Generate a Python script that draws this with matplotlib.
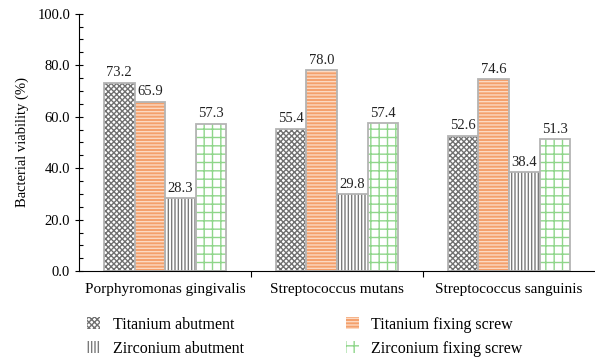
import numpy as np
import matplotlib.pyplot as plt
from matplotlib.ticker import MultipleLocator, FixedLocator

plt.rcParams['font.family'] = ['Liberation Serif', 'DejaVu Serif']
plt.rcParams['hatch.linewidth'] = 1.0

categories = ['Porphyromonas gingivalis', 'Streptococcus mutans', 'Streptococcus sanguinis']
series = ['Titanium abutment', 'Titanium fixing screw', 'Zirconium abutment', 'Zirconium fixing screw']
values = {
    'Titanium abutment': [73.2, 55.4, 52.6],
    'Titanium fixing screw': [65.9, 78.0, 74.6],
    'Zirconium abutment': [28.3, 29.8, 38.4],
    'Zirconium fixing screw': [57.3, 57.4, 51.3],
}

# face colour, hatch colour, hatch pattern
styles = {
    'Titanium abutment': ('white', '#707070', 'xxxxxx'),
    'Titanium fixing screw': ('#f4a06c', '#fcd9c2', '-----'),
    'Zirconium abutment': ('white', '#7a7a7a', '|||||'),
    'Zirconium fixing screw': ('white', '#8fd68a', '++'),
}
edge = '#b4b4b4'

fig = plt.figure(figsize=(5.95, 3.62), dpi=100)
ax = fig.add_axes([0.133, 0.251, 0.867, 0.711])

x = np.arange(len(categories))
w = 0.178
offsets = (np.arange(len(series)) - 1.5) * w

handles = {}
for i, s in enumerate(series):
    fc, hc, hatch = styles[s]
    ax.bar(x + offsets[i], values[s], w, color=fc, edgecolor=hc, hatch=hatch, linewidth=0)
    ax.bar(x + offsets[i], values[s], w, color='none', edgecolor=edge, linewidth=1.3)
    for xi, v in zip(x + offsets[i], values[s]):
        ax.text(xi, v + 1.3, f'{v:.1f}', ha='center', va='bottom', fontsize=10.5, color='#222222')
    handles[s] = plt.Rectangle((0, 0), 1, 1, facecolor=fc, edgecolor=hc, hatch=hatch, linewidth=0)

ax.set_xlim(-0.5, 2.5)
ax.set_ylim(0, 100)
ax.yaxis.set_major_locator(MultipleLocator(20))
ax.yaxis.set_minor_locator(MultipleLocator(5))
ax.yaxis.set_major_formatter(plt.FuncFormatter(lambda t, p: f'{t:.1f}'))
ax.tick_params(axis='y', which='major', direction='inout', length=6, width=0.8, labelsize=10.5)
ax.tick_params(axis='y', which='minor', direction='in', length=3, width=0.8)

ax.xaxis.set_major_locator(FixedLocator([0.5, 1.5]))
ax.xaxis.set_major_formatter(plt.NullFormatter())
ax.tick_params(axis='x', which='major', direction='out', length=4, width=0.8)
for xi, c in zip(x, categories):
    ax.text(xi, -4.5, c, ha='center', va='top', fontsize=11)

ax.spines['top'].set_visible(False)
ax.spines['right'].set_visible(False)
ax.set_ylabel('Bacterial viability (%)', fontsize=10.5, labelpad=6)

# legend filled column-wise: titanium row first, zirconium second
order = ['Titanium abutment', 'Zirconium abutment', 'Titanium fixing screw', 'Zirconium fixing screw']
fig.legend([handles[s] for s in order], order, ncol=2, loc='lower left', bbox_to_anchor=(0.122, -0.025),
           frameon=False, fontsize=11.5, handlelength=0.8, handleheight=0.8,
           handletextpad=0.8, columnspacing=6.4, labelspacing=0.5)

fig.savefig('out.png', dpi=100)
